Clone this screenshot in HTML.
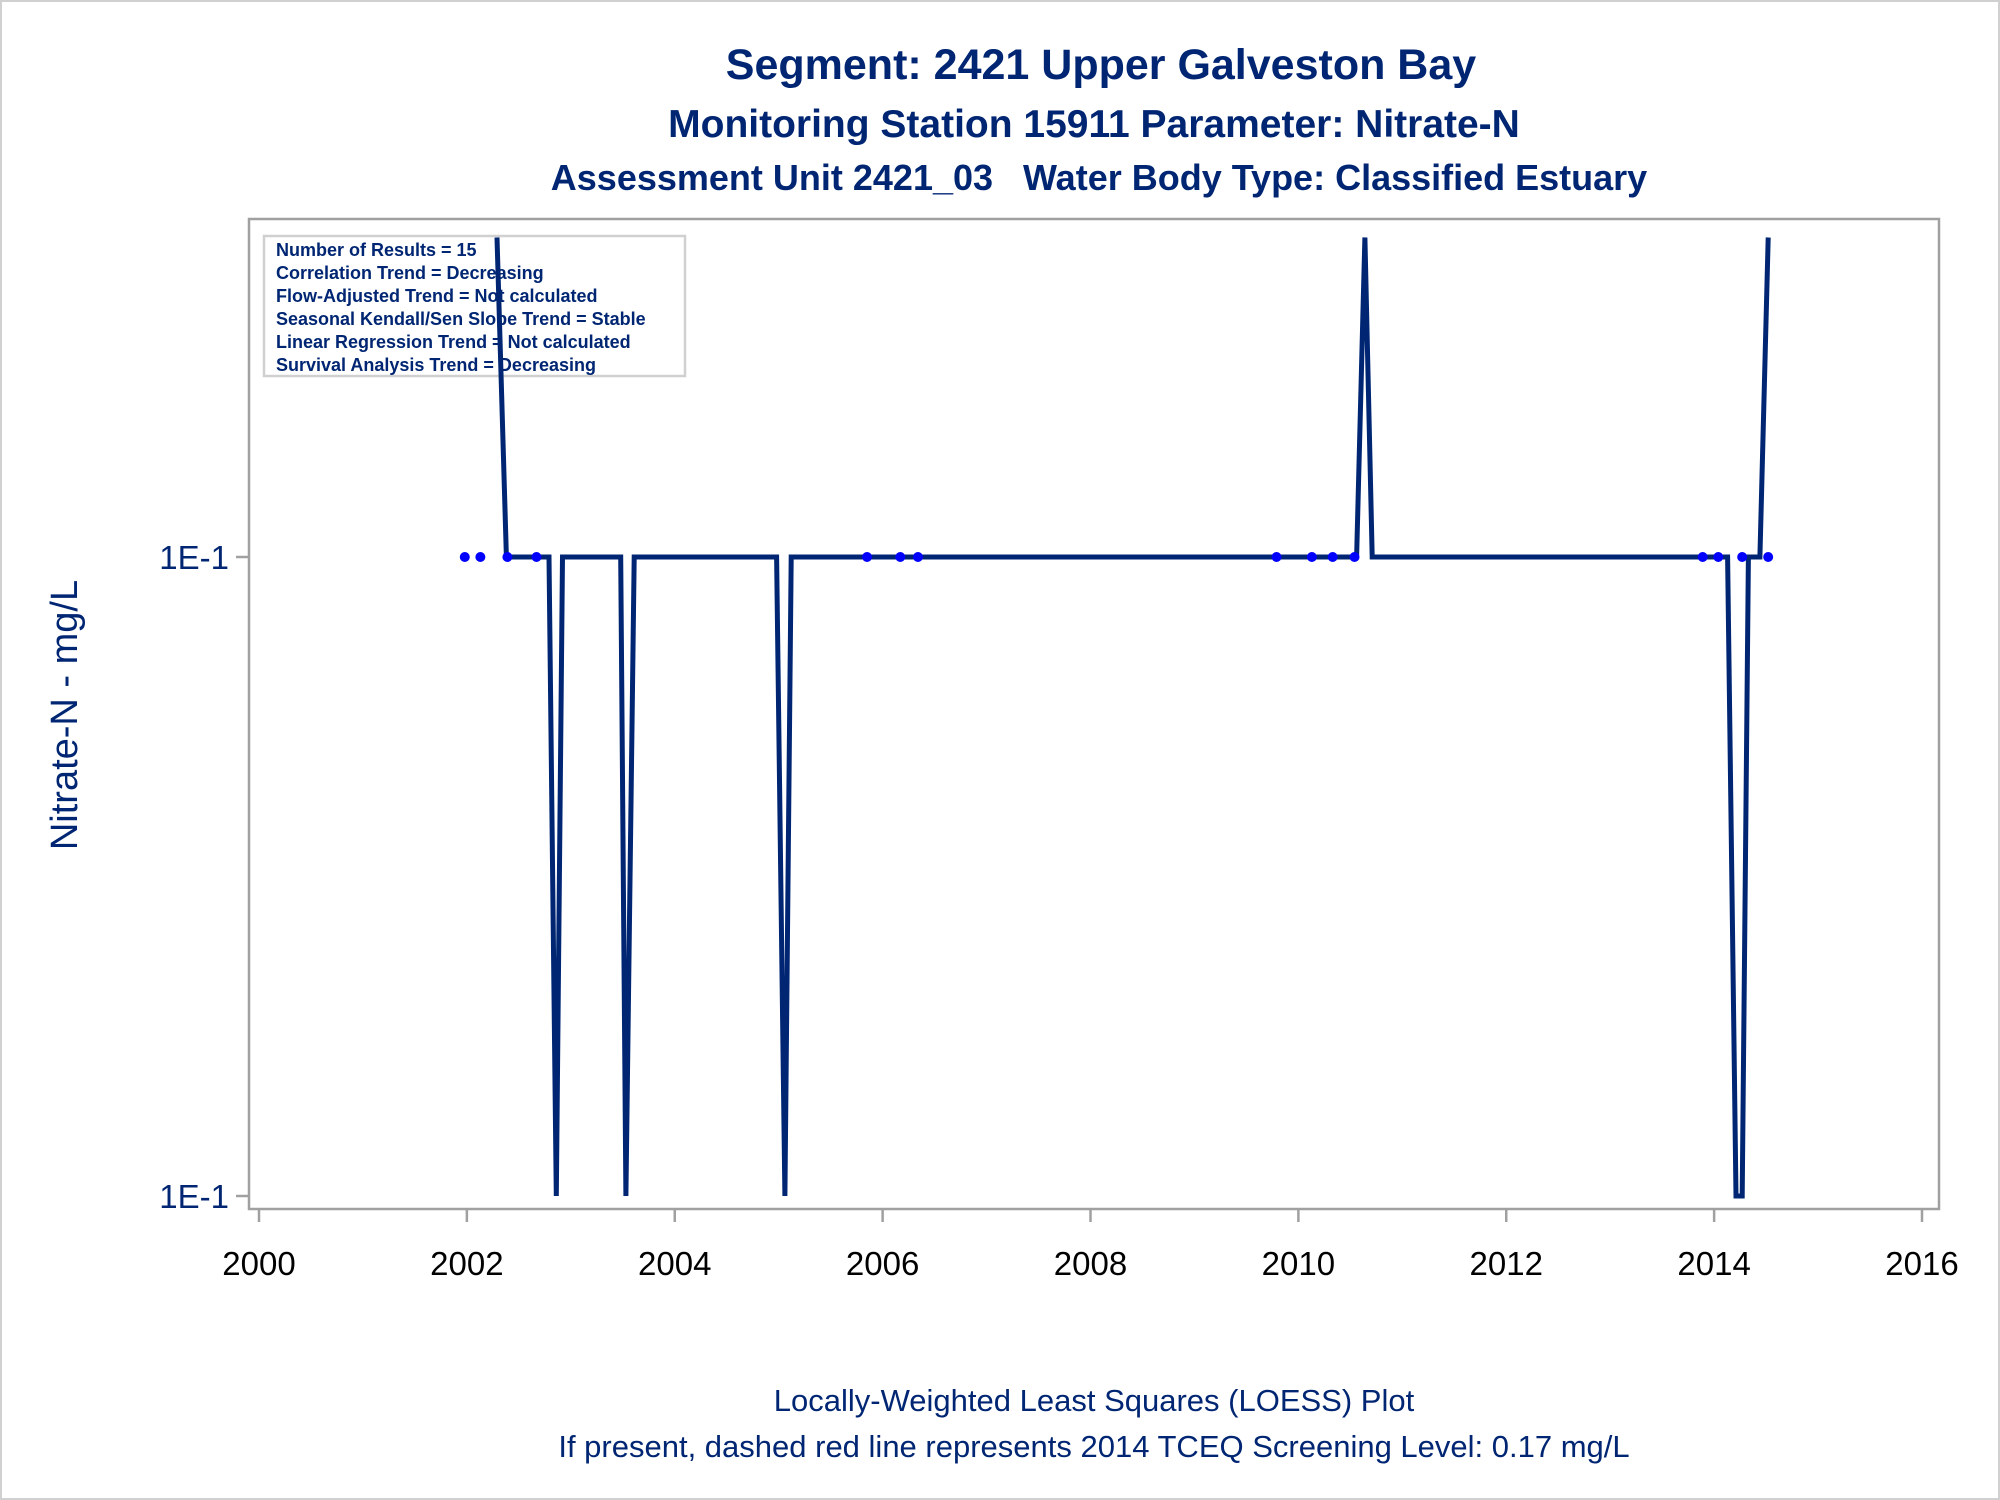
<!DOCTYPE html>
<html><head><meta charset="utf-8"><style>
html,body{margin:0;padding:0;background:#fff}
svg{display:block;font-family:"Liberation Sans",Arial,sans-serif}
</style></head><body>
<svg id="chart" width="2000" height="1500" viewBox="0 0 2000 1500">
<rect x="1" y="1" width="1998" height="1498" fill="#fff" stroke="#d0d0d0" stroke-width="2"/>
<g fill="#002673" text-anchor="middle" font-weight="bold">
<text x="1101" y="79" font-size="43">Segment: 2421  Upper Galveston Bay</text>
<text x="1094" y="137" font-size="39">Monitoring Station 15911 Parameter: Nitrate-N</text>
<text x="1099" y="190" font-size="36" xml:space="preserve">Assessment Unit 2421_03   Water Body Type: Classified Estuary</text>
</g>
<rect x="249" y="219" width="1690" height="990" fill="#fff" stroke="#a0a0a0" stroke-width="2.5"/>
<g id="yaxis"></g>
<g id="xaxis"></g>
<text transform="translate(77,715) rotate(-90)" text-anchor="middle" font-size="38" fill="#002673">Nitrate-N - mg/L</text>
<g>
<rect x="264" y="236" width="421" height="140" fill="#fff" stroke="#d0d0d0" stroke-width="2.5"/>
<g font-size="18" font-weight="bold" fill="#002673">
<text x="276" y="256">Number of Results = 15</text>
<text x="276" y="279">Correlation Trend = Decreasing</text>
<text x="276" y="302">Flow-Adjusted Trend = Not calculated</text>
<text x="276" y="325">Seasonal Kendall/Sen Slope Trend = Stable</text>
<text x="276" y="348">Linear Regression Trend = Not calculated</text>
<text x="276" y="371">Survival Analysis Trend = Decreasing</text>
</g></g>
<g id="series"></g>
<g fill="#002673" text-anchor="middle" font-size="31">
<text x="1094" y="1411">Locally-Weighted Least Squares (LOESS) Plot</text>
<text x="1094" y="1457">If present, dashed red line represents 2014 TCEQ Screening Level: 0.17 mg/L</text>
</g>
</svg>
<script>
const xTicks = [2000,2002,2004,2006,2008,2010,2012,2014,2016];
const yTicks = [0.1, 0.0999];
const yTickLabels = ["1E-1","1E-1"];
const pointYears = [2001.98,2002.13,2002.39,2002.67,2005.85,2006.17,2006.34,2009.79,2010.13,2010.33,2010.54,2013.89,2014.04,2014.27,2014.52];
const pointValues = [0.1,0.1,0.1,0.1,0.1,0.1,0.1,0.1,0.1,0.1,0.1,0.1,0.1,0.1,0.1];
const loessYears = [2002.29,2002.38,2002.79,2002.86,2002.92,2003.48,2003.53,2003.61,2004.98,2005.06,2005.12,2010.56,2010.64,2010.71,2014.13,2014.21,2014.27,2014.33,2014.44,2014.52];
const loessValues = [0.10005,0.1,0.1,0.0999,0.1,0.1,0.0999,0.1,0.1,0.0999,0.1,0.1,0.10005,0.1,0.1,0.0999,0.0999,0.1,0.1,0.10005];

const NS="http://www.w3.org/2000/svg";
const xScale = y => 259 + (y-2000)*(1922-259)/16;
const yScale = v => 557 + (0.1 - v)/(0.1-0.0999)*(1196-557);

const xa=document.getElementById('xaxis');
xTicks.forEach(t=>{
  const l=document.createElementNS(NS,'line');
  l.setAttribute('x1',xScale(t));l.setAttribute('x2',xScale(t));
  l.setAttribute('y1',1209);l.setAttribute('y2',1222);
  l.setAttribute('stroke','#a0a0a0');l.setAttribute('stroke-width','2.5');
  
  
  xa.appendChild(l);
  const tx=document.createElementNS(NS,'text');
  tx.setAttribute('x',xScale(t));tx.setAttribute('y',1275);
  tx.setAttribute('text-anchor','middle');tx.setAttribute('font-size','33');tx.setAttribute('fill','#000');
  tx.textContent=t;
  
  
  xa.appendChild(tx);
});
const ya=document.getElementById('yaxis');
yTicks.forEach((t,i)=>{
  const l=document.createElementNS(NS,'line');
  l.setAttribute('x1',236);l.setAttribute('x2',249);
  l.setAttribute('y1',yScale(t));l.setAttribute('y2',yScale(t));
  l.setAttribute('stroke','#a0a0a0');l.setAttribute('stroke-width','2.5');
  
  
  ya.appendChild(l);
  const tx=document.createElementNS(NS,'text');
  tx.setAttribute('x',229);tx.setAttribute('y',yScale(t)+12);
  tx.setAttribute('text-anchor','end');tx.setAttribute('font-size','33');tx.setAttribute('fill','#002673');
  tx.textContent=yTickLabels[i];
  
  
  ya.appendChild(tx);
});
const sg=document.getElementById('series');
const pts=loessYears.map((y,i)=>xScale(y).toFixed(1)+','+yScale(loessValues[i]).toFixed(1)).join(' ');
const pl=document.createElementNS(NS,'polyline');
pl.setAttribute('points',pts);pl.setAttribute('fill','none');
pl.setAttribute('stroke','#002673');pl.setAttribute('stroke-width','5');pl.setAttribute('stroke-linejoin','miter');


sg.appendChild(pl);
pointYears.forEach((y,i)=>{
  const c=document.createElementNS(NS,'ellipse');
  c.setAttribute('cx',xScale(y));c.setAttribute('cy',yScale(pointValues[i]));
  c.setAttribute('rx',5);c.setAttribute('ry',5);c.setAttribute('fill','#0000ff');
  
  
  sg.appendChild(c);
});
</script>
</body></html>
